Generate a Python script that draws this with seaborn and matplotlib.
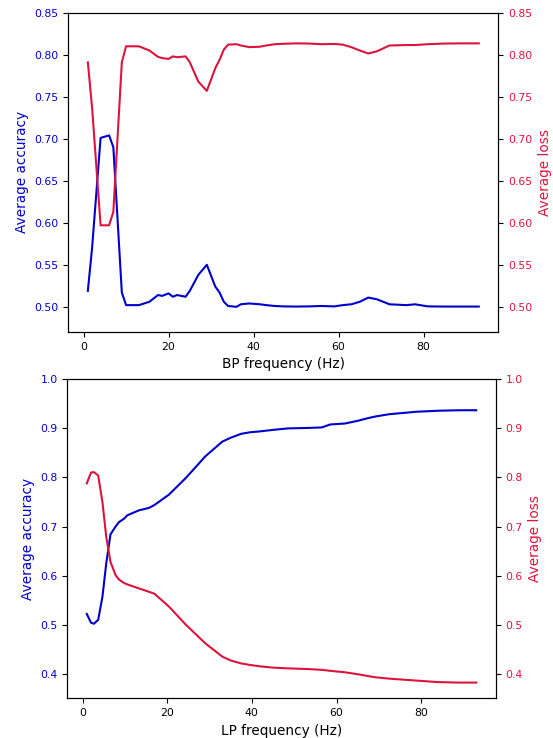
import numpy as np
import pandas as pd
import matplotlib
matplotlib.use("Agg")
import matplotlib.pyplot as plt
import seaborn as sns

# ---- BP (band-pass) data ----
bp_freq = [1, 2, 4, 6, 7, 9, 10, 13, 15.5, 17.5, 18.5, 20, 21, 22, 24, 25, 27, 29, 31, 32,
           33, 34, 36, 37, 39, 41.5, 43, 45, 47, 50, 53, 56, 59, 61, 63, 65, 67, 69, 72,
           76, 78, 81, 85, 89, 93]
bp_loss = [0.791, 0.737, 0.597, 0.597, 0.613, 0.791, 0.810, 0.810, 0.805, 0.7975, 0.796,
           0.795, 0.798, 0.797, 0.798, 0.791, 0.768, 0.757, 0.784, 0.794, 0.806, 0.812,
           0.8125, 0.811, 0.809, 0.8095, 0.811, 0.8125, 0.813, 0.8135, 0.8133, 0.8125,
           0.8128, 0.812, 0.809, 0.805, 0.8015, 0.804, 0.811, 0.8115, 0.8115, 0.8125,
           0.8133, 0.8135, 0.8135]
bp_acc = [0.519, 0.570, 0.701, 0.704, 0.690, 0.517, 0.502, 0.502, 0.506, 0.514, 0.513,
          0.516, 0.512, 0.514, 0.512, 0.519, 0.538, 0.550, 0.524, 0.517, 0.506, 0.501,
          0.500, 0.503, 0.504, 0.503, 0.502, 0.501, 0.5005, 0.5003, 0.5005, 0.501,
          0.5005, 0.502, 0.503, 0.506, 0.511, 0.509, 0.503, 0.502, 0.503, 0.5005,
          0.5003, 0.5003, 0.5003]

# ---- LP (low-pass) data ----
lp_freq = [1, 2, 2.7, 3.7, 4.7, 5.6, 6.6, 7.8, 8.6, 9.8, 10.6, 13.3, 15.7, 17, 20.4, 24.4,
           29, 33, 35, 37.5, 39.5, 42, 45, 48.5, 53.5, 56.5, 58.5, 62, 65, 67, 69, 72.5,
           79, 84, 89, 93]
lp_acc = [0.522, 0.504, 0.502, 0.510, 0.557, 0.625, 0.684, 0.700, 0.709, 0.716, 0.723,
          0.733, 0.738, 0.744, 0.765, 0.799, 0.843, 0.873, 0.881, 0.889, 0.892, 0.894,
          0.897, 0.900, 0.901, 0.902, 0.908, 0.910, 0.9155, 0.920, 0.924, 0.929, 0.934,
          0.936, 0.937, 0.937]
lp_loss = [0.788, 0.810, 0.811, 0.804, 0.750, 0.679, 0.628, 0.601, 0.592, 0.585, 0.582,
           0.574, 0.567, 0.563, 0.537, 0.500, 0.462, 0.435, 0.427, 0.421, 0.418, 0.415,
           0.4125, 0.411, 0.4095, 0.408, 0.406, 0.403, 0.399, 0.396, 0.393, 0.390, 0.386,
           0.383, 0.382, 0.382]

ACC_COLOR = "#0000cd"
LOSS_COLOR = "#dc143c"

fig = plt.figure(figsize=(5.53, 7.38), dpi=100)
ax1 = fig.add_axes([0.1235, 0.5501, 0.7776, 0.4327])
ax2 = fig.add_axes([0.1217, 0.0538, 0.7747, 0.4322])

def panel(ax, freq, acc, loss, xlabel, ylim, yticks):
    df = pd.DataFrame({"freq": freq, "acc": acc, "loss": loss})
    sns.lineplot(data=df, x="freq", y="acc", ax=ax, color=ACC_COLOR, linewidth=1.5)
    axr = ax.twinx()
    sns.lineplot(data=df, x="freq", y="loss", ax=axr, color=LOSS_COLOR, linewidth=1.5)
    for a in (ax, axr):
        a.set_ylim(*ylim)
        a.set_yticks(yticks)
    ax.set_xticks([0, 20, 40, 60, 80])
    ax.set_xlabel(xlabel, fontsize=9.8)
    ax.set_ylabel("Average accuracy", color=ACC_COLOR, fontsize=9.8)
    axr.set_ylabel("Average loss", color=LOSS_COLOR, fontsize=9.8)
    ax.tick_params(axis="y", labelcolor=ACC_COLOR, labelsize=7.8)
    ax.tick_params(axis="x", labelsize=7.8)
    axr.tick_params(axis="y", labelcolor=LOSS_COLOR, labelsize=7.8)
    return axr

panel(ax1, bp_freq, bp_acc, bp_loss, "BP frequency (Hz)", (0.47, 0.85),
      [0.50, 0.55, 0.60, 0.65, 0.70, 0.75, 0.80, 0.85])
ax1.yaxis.set_major_formatter(matplotlib.ticker.FormatStrFormatter("%.2f"))
for a in fig.axes:
    pass
panel(ax2, lp_freq, lp_acc, lp_loss, "LP frequency (Hz)", (0.35, 1.0),
      [0.4, 0.5, 0.6, 0.7, 0.8, 0.9, 1.0])

fig.savefig("out.png", dpi=100)
